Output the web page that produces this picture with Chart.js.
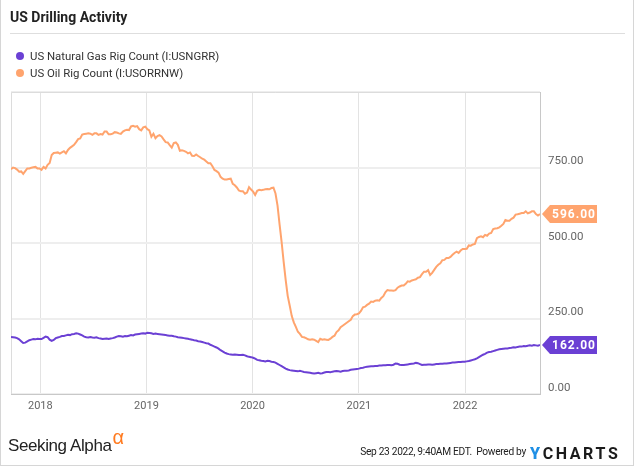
<!DOCTYPE html>
<html>
<head>
<meta charset="utf-8">
<script src="https://cdn.jsdelivr.net/npm/chart.js"></script>
<style>
  body { margin: 0; background: #fff; font-family: Roboto, "Liberation Sans", sans-serif; }
  #wrap { position: relative; width: 634px; height: 466px; box-sizing: border-box;
          border-left: 1px solid #d6d6d6; border-right: 1px solid #d6d6d6; border-bottom: 1px solid #d6d6d6; }
  #chart { position: absolute; left: -1px; top: 0; }
  .title { position: absolute; left: 9px; top: 9px; font-size: 14px; font-weight: bold; color: #222; }
  .sep { position: absolute; left: 9px; right: 8px; top: 33px; height: 0; border-top: 1px solid #dedede; }
  .legend { position: absolute; left: 15px; font-size: 11.4px; color: #333; line-height: 14px; }
  .legend i { display: inline-block; width: 8px; height: 8px; border-radius: 50%; margin-right: 6px; vertical-align: 0px; }
  .sa { position: absolute; left: 7px; top: 433px; font-family: "Liberation Sans", Arial, sans-serif; font-size: 17px; color: #222; letter-spacing: -0.4px; }
  .sa span { color: #ff7a1f; font-size: 20px; position: relative; top: -7px; margin-left: 1px; }
  .stamp { position: absolute; right: 107px; top: 446px; font-size: 10.2px; color: #222; letter-spacing: -0.3px; white-space: nowrap; }
  .yc { position: absolute; left: 529px; top: 444px; font-size: 16px; font-weight: bold; color: #1b1b1b; letter-spacing: 2.6px; }
  .yc b { color: #1f8fe5; }
</style>
</head>
<body>
<div id="wrap">
  <canvas id="chart" width="635" height="466"></canvas>
  <div class="title">US Drilling Activity</div>
  <div class="sep"></div>
  <div class="legend" style="top:49px"><i style="background:#6b40d4"></i>US Natural Gas Rig Count (I:USNGRR)</div>
  <div class="legend" style="top:66px"><i style="background:#ffa46e"></i>US Oil Rig Count (I:USORRNW)</div>
  <div class="sa">Seeking Alpha<span>&alpha;</span></div>
  <div class="stamp">Sep 23 2022, 9:40AM EDT.&nbsp; Powered by</div>
  <div class="yc"><b>Y</b>CHARTS</div>
</div>
<script>
// weekly readings, first week ending Sep 22 2017
var firstWeek = Date.UTC(2017, 8, 22);
var weekMs = 7 * 24 * 3600 * 1000;

var oilRigs = [
  744, 750, 748, 743, 736, 737, 729, 738, 747, 747, 749, 751, 752, 747, 747,
  742, 752, 747, 759, 765, 791, 798, 799, 800, 796, 800, 804, 797, 808, 815, 820, 825, 834, 844, 846, 859,
  861, 862, 863, 862, 858, 863, 863, 858, 861, 859, 869, 869, 860, 860, 862, 867, 866, 863, 861, 869,
  873, 875, 874, 886, 888, 885, 887, 877, 873, 883, 885,
  877, 873, 852, 862, 847, 854, 857, 853, 843, 834, 833, 824, 816, 831, 833, 825, 805, 807, 805, 802,
  797, 800, 789, 788, 793, 788, 784, 779, 776, 770, 764, 764, 754, 742, 738, 733, 719, 713, 710, 710,
  712, 713, 696, 691, 684, 674, 671, 671, 663, 667, 685, 677,
  670, 659, 673, 676, 675, 676, 678, 679, 678, 682, 683, 664, 624, 562, 504, 438, 378, 325, 292, 258,
  237, 222, 206, 199, 189, 188, 185, 181, 180, 181, 180, 176, 172, 183, 180, 181, 180, 179, 183, 189,
  193, 205, 211, 221, 226, 231, 236, 241, 246, 258, 263, 264,
  267, 275, 287, 289, 295, 299, 306, 305, 309, 310, 309, 318, 324, 337, 344, 343, 343, 342, 344, 352,
  356, 359, 359, 365, 373, 372, 376, 378, 380, 385, 387, 397, 405, 405, 410, 394, 401, 411, 421, 428,
  433, 443, 444, 450, 450, 454, 461, 467, 471, 467, 475, 480, 480,
  481, 492, 491, 495, 497, 516, 520, 522, 519, 527, 524, 531, 533, 546, 548, 549, 552, 557, 563, 576,
  574, 574, 580, 584, 594, 595, 597, 599, 599, 605, 598, 601, 605, 605, 596, 591, 596
];

var gasRigs = [
  189, 188, 187, 185, 181, 175, 169, 170, 174, 178, 180, 182, 181, 183, 182,
  182, 186, 190, 188, 180, 176, 179, 185, 187, 189, 192, 192, 194, 196, 195, 198, 199, 201, 200, 197,
  194, 190, 188, 187, 189, 187, 186, 188, 185, 184, 182, 183, 184, 182, 184, 185, 187, 190, 192, 191,
  190, 192, 191, 193, 195, 194, 197, 198, 199, 200, 201, 200,
  203, 202, 201, 199, 200, 199, 198, 197, 196, 195, 194, 193, 193, 191, 190, 188, 187, 186, 185, 184,
  183, 181, 180, 178, 177, 175, 174, 172, 170, 168, 167, 163, 160, 157, 154, 150, 145, 141, 137, 134,
  132, 131, 130, 131, 130, 129, 129, 130, 128, 125, 123, 122,
  120, 117, 113, 112, 110, 109, 108, 110, 109, 107, 106, 104, 100, 96, 92, 88, 84, 81, 79, 78,
  77, 76, 75, 77, 75, 73, 72, 71, 70, 69, 68, 69, 70, 68, 69, 71, 73, 73, 72, 74,
  75, 76, 75, 74, 76, 77, 77, 78, 80, 81, 82, 83,
  84, 86, 87, 89, 90, 91, 92, 92, 93, 93, 94, 94, 95, 95, 96, 96, 95, 97, 101, 100,
  97, 96, 96, 97, 98, 99, 100, 101, 103, 102, 99, 96, 97, 97, 98, 98, 97, 98, 99, 99,
  100, 100, 101, 101, 102, 103, 104, 104, 105, 106, 106, 107, 107,
  108, 109, 111, 113, 115, 118, 122, 126, 130, 133, 137, 139, 140, 142, 144, 146, 148, 149, 150, 151,
  151, 152, 153, 155, 154, 156, 157, 157, 159, 158, 160, 161, 160, 162, 161, 160, 162
];

var tickYears = [2018, 2019, 2020, 2021, 2022];
var yTicks = [0, 250, 500, 750, 1000];

var gasColor = '#6b40d4';
var oilColor = '#ffa46e';

function toPoints(arr) {
  return arr.map(function (v, i) { return { x: firstWeek + i * weekMs, y: v }; });
}

Chart.defaults.font.family = 'Roboto, "Liberation Sans", sans-serif';

// border around plot area + value flags at the right edge
var flags = {
  id: 'flags',
  beforeDatasetsDraw: function (chart) {
    var a = chart.chartArea, ctx = chart.ctx;
    ctx.save();
    ctx.strokeStyle = '#dcdcdc';
    ctx.lineWidth = 1;
    ctx.beginPath();
    ctx.moveTo(a.left + 0.5, a.bottom);
    ctx.lineTo(a.left + 0.5, a.top + 0.5);
    ctx.lineTo(a.right, a.top + 0.5);
    ctx.stroke();
    ctx.restore();
  },
  afterDatasetsDraw: function (chart) {
    var a = chart.chartArea, ctx = chart.ctx, ys = chart.scales.y;
    chart.data.datasets.forEach(function (ds) {
      var last = ds.data[ds.data.length - 1].y;
      var y = Math.round(ys.getPixelForValue(last));
      var x0 = a.right + 2;
      ctx.save();
      ctx.fillStyle = ds.borderColor;
      ctx.beginPath();
      ctx.moveTo(x0, y);
      ctx.lineTo(x0 + 8, y - 9);
      ctx.lineTo(x0 + 55, y - 9);
      ctx.lineTo(x0 + 55, y + 9);
      ctx.lineTo(x0 + 8, y + 9);
      ctx.closePath();
      ctx.fill();
      ctx.fillStyle = '#fff';
      ctx.font = 'bold 12px Roboto, sans-serif';
      ctx.letterSpacing = '1px';
      ctx.textAlign = 'center';
      ctx.textBaseline = 'middle';
      ctx.fillText(last.toFixed(2), x0 + 32, y + 1);
      ctx.restore();
    });
  }
};

new Chart(document.getElementById('chart'), {
  type: 'line',
  data: {
    datasets: [
      { label: 'US Natural Gas Rig Count (I:USNGRR)', data: toPoints(gasRigs),
        borderColor: gasColor, borderWidth: 2, pointRadius: 0, tension: 0 },
      { label: 'US Oil Rig Count (I:USORRNW)', data: toPoints(oilRigs),
        borderColor: oilColor, borderWidth: 2, pointRadius: 0, tension: 0 }
    ]
  },
  options: {
    responsive: false,
    animation: false,
    devicePixelRatio: 1,
    layout: { padding: { left: 11, top: 92, right: 0, bottom: 0 } },
    plugins: { legend: { display: false }, tooltip: { enabled: false } },
    scales: {
      x: {
        type: 'linear',
        min: firstWeek,
        max: firstWeek + (oilRigs.length - 1) * weekMs,
        afterBuildTicks: function (axis) {
          axis.ticks = tickYears.map(function (y) { return { value: Date.UTC(y, 0, 1) }; });
        },
        afterFit: function (axis) { axis.height = 72; },
        grid: { color: '#e3e3e3', lineWidth: 1, drawTicks: false },
        border: { color: '#c8c8c8' },
        ticks: {
          padding: 6,
          color: '#666',
          font: { size: 11 },
          maxRotation: 0,
          callback: function (v) { return new Date(v).getUTCFullYear(); }
        }
      },
      y: {
        position: 'right',
        min: 0,
        max: 1000,
        afterBuildTicks: function (axis) {
          axis.ticks = yTicks.map(function (v) { return { value: v }; });
        },
        afterFit: function (axis) { axis.width = 95; },
        grid: { color: '#eeeeee', lineWidth: 2, drawTicks: false },
        border: { color: '#c8c8c8' },
        ticks: {
          padding: 8,
          labelOffset: -6,
          color: '#666',
          font: { size: 11.5 },
          callback: function (v) { return v === 1000 ? '' : v.toFixed(2); }
        }
      }
    }
  },
  plugins: [flags]
});
</script>
</body>
</html>
